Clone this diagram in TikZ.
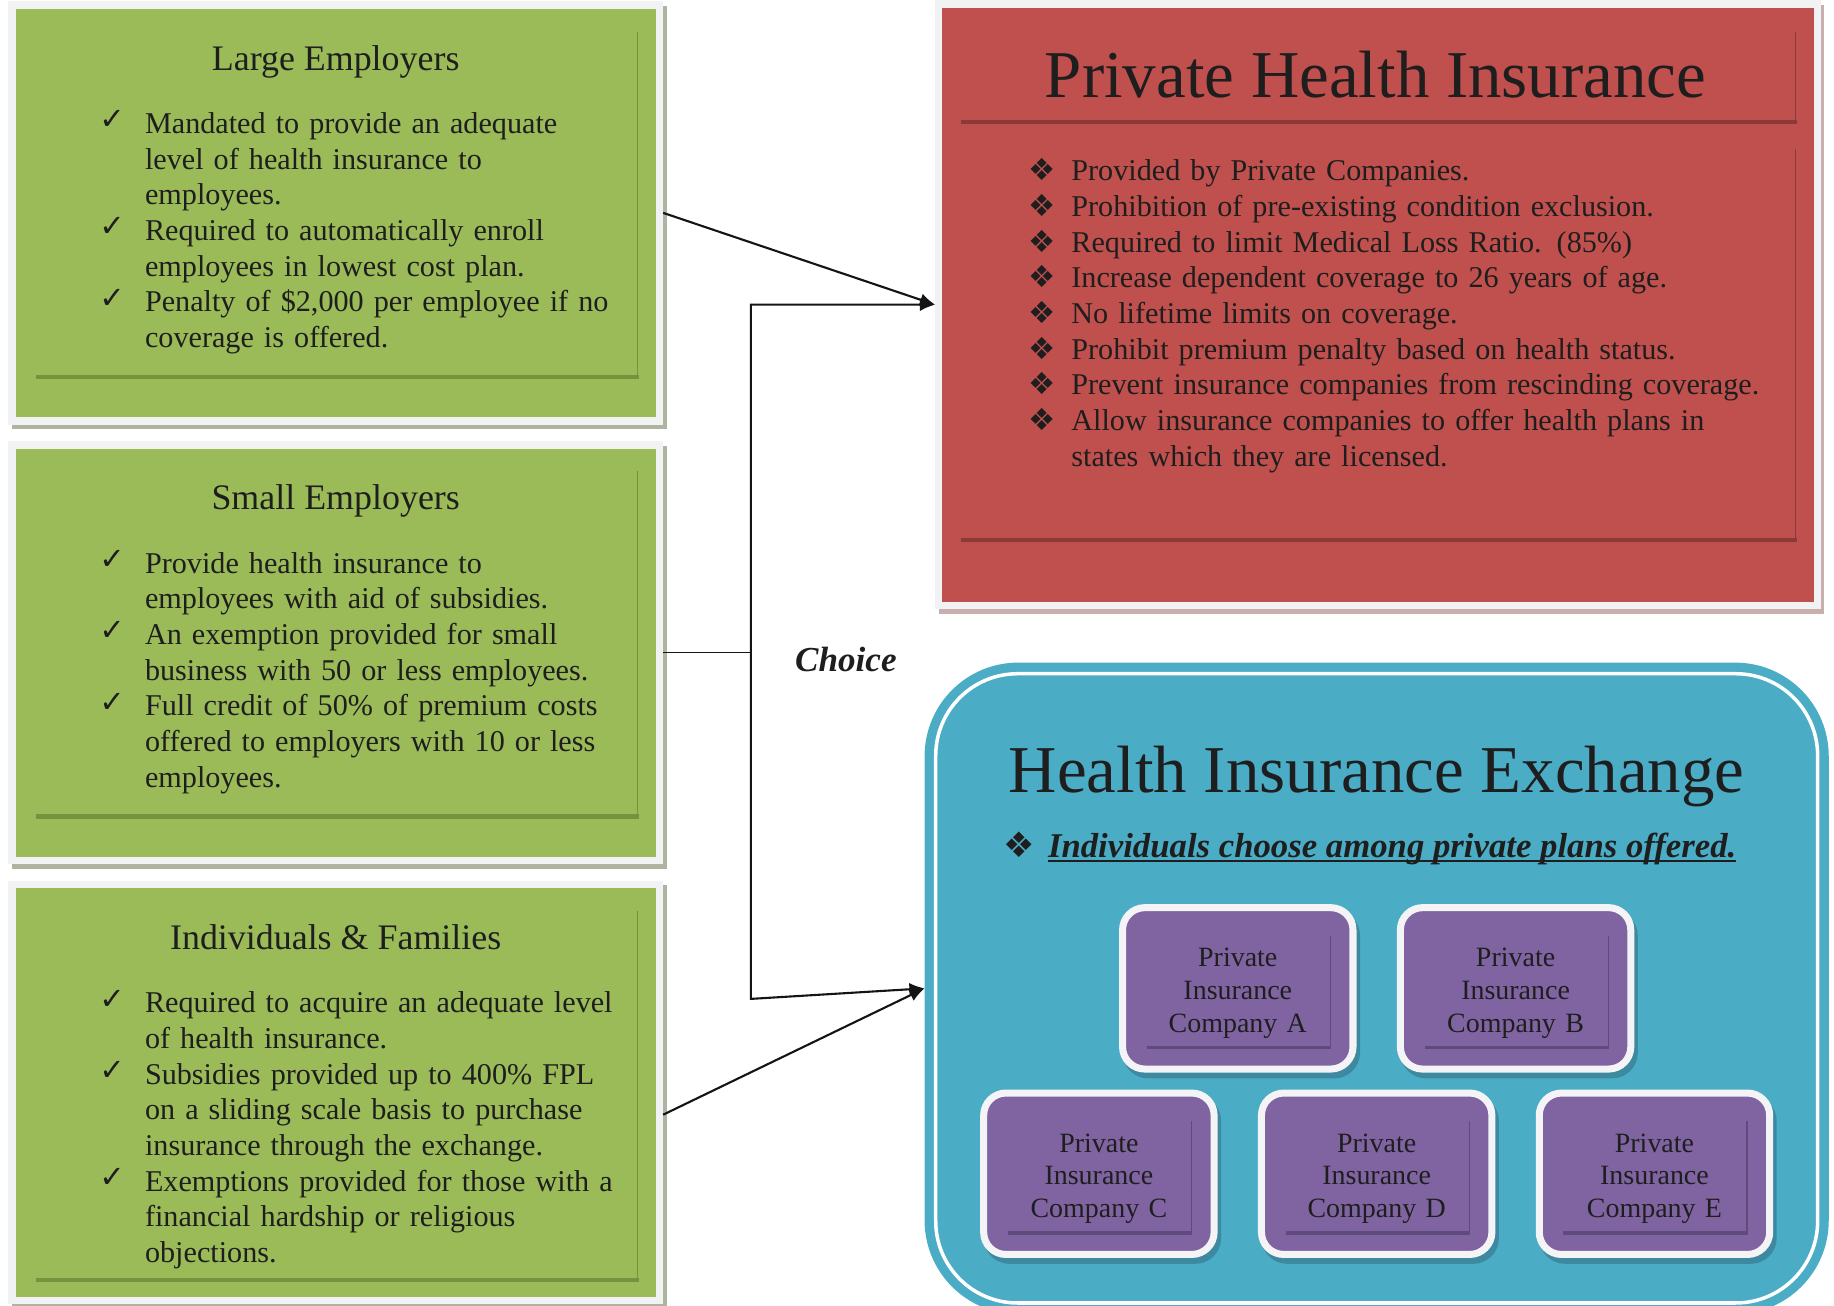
\documentclass[tikz,border=0pt]{standalone}
\usepackage{fontspec}
\setmainfont{Liberation Serif}
\newfontfamily\symfont{DejaVu Sans}
\usetikzlibrary{arrows.meta,shadows}

\definecolor{txtcol}{HTML}{1E1E1E}
\definecolor{framegray}{HTML}{F1F2F4}
\definecolor{gshadow}{HTML}{AEB4A0}
\definecolor{grfill}{HTML}{9BBB59}
\definecolor{grline}{HTML}{76923C}
\definecolor{rdfill}{HTML}{C0504D}
\definecolor{rdline}{HTML}{8C3A38}
\definecolor{rshadow}{HTML}{C8AEAC}
\definecolor{blfill}{HTML}{4BACC6}
\definecolor{pufill}{HTML}{8064A2}
\definecolor{puline}{HTML}{5E4A7C}
\definecolor{puframe}{HTML}{F4F4F7}
\definecolor{pshadow}{HTML}{3D8AA0}

% list items with hanging indentation; each item is one paragraph
\newcommand{\ckmark}{\makebox[39pt][l]{\raisebox{3pt}{\fontsize{26}{26}\symfont\bfseries ✓}}}
\newcommand{\dmmark}{\makebox[37pt][l]{\fontsize{26}{26}\symfont ❖}}
\newcommand{\ckitem}[1]{\noindent\hangindent=39pt\hangafter=1\ckmark\strut #1\par}
\newcommand{\dmitem}[1]{\noindent\hangindent=37pt\hangafter=1\dmmark\strut #1\par}

% green panel body: fill and the two inner rules (#2 = rule height above the frame bottom)
\newcommand{\greenpanel}[2]{%
  \fill[grfill] ([shift={(6.5,6.5)}]#1.north west) rectangle ([shift={(-6.5,-6.5)}]#1.south east);
  \draw[grline, thinrule] ([shift={(-22,26)}]#1.north east) -- ([shift={(-22,-#2)}]#1.south east);
  \draw[grline, thickrule] ([shift={(24,-#2)}]#1.south west) -- ([shift={(-21,-#2)}]#1.south east);
}

% insurance company tile
\newcommand{\company}[3]{%
  \node[cobox] (#1) at #2 {};
  \draw[puline, thinrule] ([shift={(-19.3,24)}]#1.north east) -- ([shift={(-19.3,-18.4)}]#1.south east);
  \draw[puline, line width=3pt] ([shift={(20.7,-18.4)}]#1.south west) -- ([shift={(-18.5,-18.4)}]#1.south east);
  \node[cotext] (#1-txt) at ([yshift=-30.9pt]#1.north) {\strut Private\\Insurance\\Company #3};
}

\begin{document}
\begin{tikzpicture}[x=1pt, y=-1pt,
  every node/.style={inner sep=0pt, outer sep=0pt, text=txtcol},
  gframe/.style={fill=framegray, minimum width=560pt, minimum height=362pt,
    general shadow={fill=gshadow, shadow xshift=3pt, shadow yshift=-4pt}},
  rframe/.style={fill=framegray, minimum width=757pt, minimum height=521pt,
    general shadow={fill=rshadow, shadow xshift=3pt, shadow yshift=-4pt}},
  hiebox/.style={fill=blfill, rounded corners=80pt, minimum width=773pt, minimum height=557pt},
  cobox/.style={fill=pufill, draw=puframe, line width=6pt, rounded corners=19pt,
    minimum width=197pt, minimum height=138pt,
    general shadow={fill=pshadow, draw=pshadow, line width=6pt, shadow xshift=3pt, shadow yshift=-5pt}},
  thinrule/.style={line width=1.2pt},
  thickrule/.style={line width=3.6pt},
  paneltitle/.style={anchor=base, font=\fontsize{30.7}{36}\selectfont},
  bigtitle/.style={anchor=base, font=\fontsize{57.2}{66}\selectfont},
  listbox/.style={anchor=north west, text width=720pt, align=left, font=\fontsize{25.8}{30.5}\selectfont},
  cotext/.style={anchor=north, text width=190pt, align=center, font=\fontsize{23.9}{28}\selectfont},
  conn/.style={draw=black!92, line width=1.8pt, line join=miter},
  arrowend/.style={-{Latex[length=13pt,width=11pt]}},
]
\useasboundingbox (0,0) rectangle (1568,1116);
\clip (0,0) rectangle (1568,1116);

% ---------- left column: who must provide or buy coverage ----------
\node[gframe] (le) at (287,182) {};
\node[gframe] (se) at (287,558) {};
\node[gframe] (ind) at (287,934) {};
\greenpanel{le}{41}
\greenpanel{se}{41}
\greenpanel{ind}{20.5}

\node[paneltitle] (le-title) at ([yshift=-59pt]le.north) {Large Employers};
\node[listbox] (le-list) at ([shift={(78,91.65)}]le.north west) {%
\ckitem{Mandated to provide an adequate\newline level of health insurance to\newline employees.}
\ckitem{Required to automatically enroll\newline employees in lowest cost plan.}
\ckitem{Penalty of \$2,000 per employee if no\newline coverage is offered.}};

\node[paneltitle] (se-title) at ([yshift=-59pt]se.north) {Small Employers};
\node[listbox] (se-list) at ([shift={(78,91.65)}]se.north west) {%
\ckitem{Provide health insurance to\newline employees with aid of subsidies.}
\ckitem{An exemption provided for small\newline business with 50 or less employees.}
\ckitem{Full credit of 50\% of premium costs\newline offered to employers with 10 or less\newline employees.}};

\node[paneltitle] (ind-title) at ([yshift=-59pt]ind.north) {Individuals \& Families};
\node[listbox] (ind-list) at ([shift={(78,91.65)}]ind.north west) {%
\ckitem{Required to acquire an adequate level\newline of health insurance.}
\ckitem{Subsidies provided up to 400\% FPL\newline on a sliding scale basis to purchase\newline insurance through the exchange.}
\ckitem{Exemptions provided for those with a\newline financial hardship or religious\newline objections.}};

% ---------- private health insurance ----------
\node[rframe] (phi) at (1178,260.5) {};
\fill[rdfill] ([shift={(6,6.5)}]phi.north west) rectangle ([shift={(-6,-6)}]phi.south east);
\draw[rdline, thinrule] (1535,27) -- (1535,104);
\draw[rdline, thickrule] (822,104) -- (1536,104);
\draw[rdline, thinrule] (1535,127.5) -- (1535,462);
\draw[rdline, thickrule] (822,462) -- (1536,462);
\node[bigtitle] (phi-title) at (1176,83.3) {Private Health Insurance};
\node[listbox] (phi-list) at ([shift={(79.5,133.25)}]phi.north west) {%
\dmitem{Provided by Private Companies.}
\dmitem{Prohibition of pre-existing condition exclusion.}
\dmitem{Required to limit Medical Loss Ratio. (85\%)}
\dmitem{Increase dependent coverage to 26 years of age.}
\dmitem{No lifetime limits on coverage.}
\dmitem{Prohibit premium penalty based on health status.}
\dmitem{Prevent insurance companies from rescinding coverage.}
\dmitem{Allow insurance companies to offer health plans in\newline states which they are licensed.}};

% ---------- health insurance exchange ----------
\node[hiebox] (hie) at (1177,845) {};
\draw[white, line width=3pt, rounded corners=70pt]
  ([shift={(9.5,9.5)}]hie.north west) rectangle ([shift={(-9.5,-9.5)}]hie.south east);
\node[bigtitle] (hie-title) at ([yshift=-110.9pt]hie.north) {Health Insurance Exchange};
\node[anchor=base west] (hie-bul) at (858,732.7) {\fontsize{30}{30}\symfont ❖};
\node[anchor=base west, font=\fontsize{29.7}{34}\selectfont\bfseries\itshape] (hie-sub) at (896,732.7)
  {Individuals choose among private plans offered.};
\draw[txtcol, line width=2.2pt] ([yshift=-3.5pt]hie-sub.base west) -- ([yshift=-3.5pt]hie-sub.base east);

\company{coA}{(1058.25,845)}{A}
\company{coB}{(1295.75,845)}{B}
\company{coC}{(939.5,1003.5)}{C}
\company{coD}{(1177,1003.5)}{D}
\company{coE}{(1414.5,1003.5)}{E}

% ---------- connectors ----------
\coordinate (brtop) at (642,260.5);
\coordinate (brbot) at (642,854);
\node[anchor=base, font=\fontsize{30}{36}\selectfont\bfseries\itshape] (choice) at (723.2,573.7) {Choice};

\draw[conn, arrowend] (le.east) -- (phi.west);
\draw[conn, {Latex[length=13pt,width=11pt]}-{Latex[length=13pt,width=11pt]}]
  (phi.west) -- (brtop) -- (brbot) -- (hie.west);
\draw[conn, line width=1.2pt] (se.east) -- (se.east -| brtop);
\draw[conn, arrowend] ([yshift=-19pt]ind.east) -- (hie.west);
\end{tikzpicture}
\end{document}
